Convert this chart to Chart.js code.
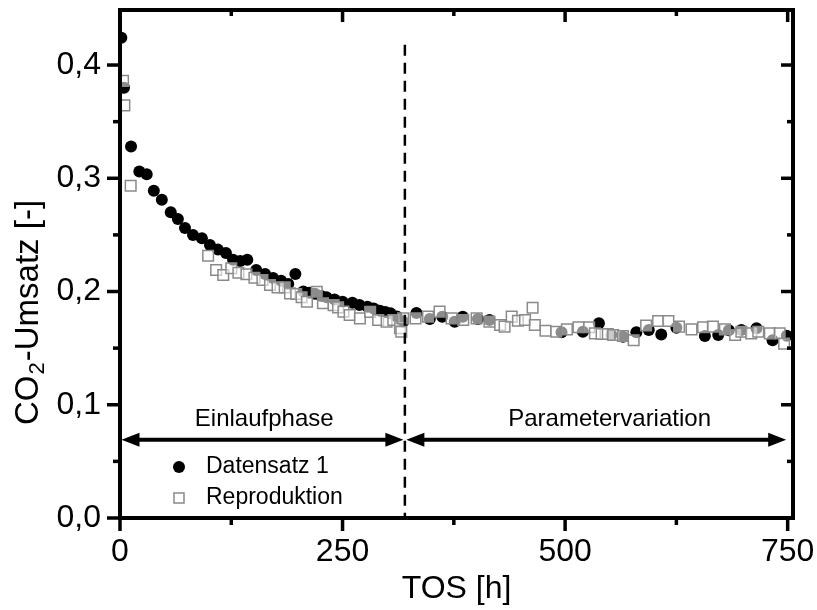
<!DOCTYPE html>
<html><head><meta charset="utf-8">
<script src="https://cdn.jsdelivr.net/npm/chart.js@4.4.1/dist/chart.umd.min.js"></script>
<style>html,body{margin:0;padding:0;background:#fff}#wrap{width:817px;height:610px}</style>
</head><body><div id="wrap"><canvas id="c" width="817" height="610"></canvas></div>
<script>
// ---- data ----
const datensatzX = [1.5,4.5,12.4,21.7,30,38,47,57,65,73,82,92,101,110,119,127,135,143,153,163,172,181,189,197,206,213,219,226,232,241,250,261,269,278,285,292,298,304,311,318,333,348,362,376,385,402,415,496,520,538,552,565,580,594,608,625,657,672,684,698,715,733,749];
const datensatzY = [0.424,0.380,0.328,0.306,0.3035,0.289,0.281,0.270,0.264,0.256,0.250,0.247,0.241,0.237,0.234,0.228,0.227,0.228,0.219,0.2155,0.212,0.2096,0.2066,0.2155,0.200,0.199,0.198,0.196,0.195,0.193,0.191,0.190,0.188,0.1866,0.185,0.183,0.182,0.1807,0.178,0.1734,0.181,0.1758,0.1778,0.1734,0.1778,0.1758,0.1748,0.164,0.1645,0.172,0.1616,0.160,0.164,0.166,0.162,0.168,0.1607,0.1616,0.1657,0.166,0.1675,0.157,0.161];
const reproX = [3.4,4.9,12,99,108,116,125,133,142,151,160,168.5,177,185,191,198,204,210,221,228,240,245,251,258,269.5,281,290,299.5,307,314.5,316,318,332,346,359,372.5,385.6,400.6,415,427,432,440,447,455,463.5,466,478,490,502,515,527,533.5,541,548,554,565,577,591,604.5,616,628,642,655,666,679.5,691,698,709,717,730,741,746];
const reproY = [0.386,0.3644,0.2934,0.2316,0.219,0.2146,0.2205,0.2166,0.2152,0.2122,0.2102,0.2057,0.2037,0.2037,0.1984,0.1978,0.195,0.191,0.1998,0.1896,0.188,0.186,0.1822,0.1793,0.1763,0.182,0.1748,0.1734,0.1748,0.1675,0.1645,0.1763,0.1763,0.1778,0.1822,0.1763,0.1748,0.1763,0.1734,0.1704,0.169,0.1778,0.1742,0.1748,0.1857,0.1704,0.1654,0.1645,0.1666,0.1684,0.1684,0.163,0.1625,0.1625,0.1616,0.1607,0.157,0.170,0.174,0.174,0.169,0.1666,0.1684,0.169,0.1666,0.1616,0.1645,0.163,0.1645,0.163,0.163,0.154];
const seriesNames = ['Datensatz 1','Reproduktion'];
const xMajorTicks = [0,250,500,750];
const xMinorTicks = [125,375,625];
const yMajorTicks = [0,0.1,0.2,0.3,0.4];
const yMinorTicks = [0.05,0.15,0.25,0.35];
const xTitle = 'TOS [h]';
const yTitleParts = ['CO','2','-Umsatz [-]'];
const phaseBoundary = 320;
const phaseBoundaryTop = 0.418;
const phaseArrowY = 0.069;
const phaseLabelY = 0.0874;
const phaseLabels = ['Einlaufphase','Parametervariation'];
const phaseStarts = [0,320];
const phaseEnds = [320,750];
const phaseLabelX = [162,550];

const FONT = '"Liberation Sans", Arial, Helvetica, sans-serif';

function toPts(xs, ys){ return xs.map((x,i)=>({x:x,y:ys[i]})); }

const decor = {
  id:'decor',
  afterDraw(chart){
    const ctx = chart.ctx, ca = chart.chartArea;
    const xs = chart.scales.x, ys = chart.scales.y;
    ctx.save();
    ctx.fillStyle = '#000'; ctx.strokeStyle = '#000';
    // dashed boundary
    const bx = xs.getPixelForValue(phaseBoundary);
    ctx.setLineDash([11,7]); ctx.lineWidth = 2.5;
    ctx.beginPath(); ctx.moveTo(bx, ys.getPixelForValue(phaseBoundaryTop)); ctx.lineTo(bx, ca.bottom); ctx.stroke();
    ctx.setLineDash([]);
    // arrows
    const ay = ys.getPixelForValue(phaseArrowY);
    const hl = 18, hw = 7;
    for (let i=0;i<phaseLabels.length;i++){
      const x1 = xs.getPixelForValue(phaseStarts[i]) + 1.5, x2 = xs.getPixelForValue(phaseEnds[i]) - 1.5;
      ctx.lineWidth = 4;
      ctx.beginPath(); ctx.moveTo(x1+hl-2, ay); ctx.lineTo(x2-hl+2, ay); ctx.stroke();
      ctx.beginPath(); ctx.moveTo(x1, ay); ctx.lineTo(x1+hl, ay-hw); ctx.lineTo(x1+hl, ay+hw); ctx.closePath(); ctx.fill();
      ctx.beginPath(); ctx.moveTo(x2, ay); ctx.lineTo(x2-hl, ay-hw); ctx.lineTo(x2-hl, ay+hw); ctx.closePath(); ctx.fill();
      ctx.font = '24px ' + FONT; ctx.textAlign = 'center'; ctx.textBaseline = 'middle';
      ctx.fillText(phaseLabels[i], xs.getPixelForValue(phaseLabelX[i]), ys.getPixelForValue(phaseLabelY));
    }
    // legend
    ctx.font = '23px ' + FONT; ctx.textAlign = 'left'; ctx.textBaseline = 'middle';
    const lx = ca.left + 59, ly0 = ca.bottom - 51, lgap = 31;
    ctx.beginPath(); ctx.arc(lx, ly0, 6, 0, Math.PI*2); ctx.fill();
    ctx.fillText(seriesNames[0], lx + 27, ly0);
    ctx.fillStyle = '#fff'; ctx.fillRect(lx-5, ly0+lgap-5, 10, 10);
    ctx.strokeStyle = '#8a8a8a'; ctx.lineWidth = 1.5; ctx.strokeRect(lx-5, ly0+lgap-5, 10, 10);
    ctx.fillStyle = '#000'; ctx.strokeStyle = '#000';
    ctx.fillText(seriesNames[1], lx + 27, ly0 + lgap);
    // frame
    ctx.lineWidth = 4; ctx.lineJoin = 'miter';
    ctx.strokeRect(ca.left, ca.top, ca.right-ca.left, ca.bottom-ca.top);
    // ticks
    ctx.lineWidth = 3.5; ctx.lineCap = 'butt';
    const tk = (x1,y1,x2,y2)=>{ctx.beginPath();ctx.moveTo(x1,y1);ctx.lineTo(x2,y2);ctx.stroke();};
    xMajorTicks.forEach(v=>{const p=xs.getPixelForValue(v); tk(p,ca.bottom,p,ca.bottom+13); tk(p,ca.top,p,ca.top+12);});
    xMinorTicks.forEach(v=>{const p=xs.getPixelForValue(v); tk(p,ca.bottom,p,ca.bottom+7); tk(p,ca.top,p,ca.top+6);});
    yMajorTicks.forEach(v=>{const p=ys.getPixelForValue(v); tk(ca.left,p,ca.left-13,p); tk(ca.right,p,ca.right-12,p);});
    yMinorTicks.forEach(v=>{const p=ys.getPixelForValue(v); tk(ca.left,p,ca.left-7,p); tk(ca.right,p,ca.right-6,p);});
    // tick labels
    ctx.font = '32px ' + FONT; ctx.textBaseline = 'middle';
    ctx.textAlign = 'center';
    xMajorTicks.forEach(v=>ctx.fillText(String(v), xs.getPixelForValue(v), ca.bottom + 34));
    ctx.textAlign = 'right';
    yMajorTicks.forEach(v=>ctx.fillText(v.toFixed(1).replace('.',','), ca.left - 19, ys.getPixelForValue(v)));
    // x title
    ctx.textAlign = 'center';
    ctx.fillText(xTitle, (ca.left+ca.right)/2, ca.bottom + 71);
    // y title with subscript
    ctx.translate(29, 425); ctx.rotate(-Math.PI/2);
    ctx.textAlign = 'left'; ctx.font = '33px ' + FONT;
    let w = 0;
    ctx.fillText(yTitleParts[0], w, 0); w += ctx.measureText(yTitleParts[0]).width;
    ctx.font = '22px ' + FONT;
    ctx.fillText(yTitleParts[1], w + 1, 9); w += ctx.measureText(yTitleParts[1]).width + 2;
    ctx.font = '33px ' + FONT;
    ctx.fillText(yTitleParts[2], w, 0);
    ctx.restore();
  }
};

new Chart(document.getElementById('c'), {
  type: 'scatter',
  data: {
    datasets: [
      { label: seriesNames[0], data: toPts(datensatzX, datensatzY), order: 1,
        pointStyle: 'circle', pointRadius: 6, pointHoverRadius: 6,
        backgroundColor: '#000', borderColor: '#000', borderWidth: 0 },
      { label: seriesNames[1], data: toPts(reproX, reproY), order: 0,
        pointStyle: 'rect', pointRadius: 7.5, pointHoverRadius: 7.5,
        backgroundColor: 'rgba(255,255,255,0.55)', borderColor: '#8a8a8a', borderWidth: 1.5 }
    ]
  },
  options: {
    responsive: false, animation: false, devicePixelRatio: 1,
    layout: { padding: { left: 120, right: 24, top: 10, bottom: 92 } },
    scales: {
      x: { type: 'linear', min: 0, max: 756, display: false },
      y: { type: 'linear', min: 0, max: 0.4486, display: false }
    },
    plugins: { legend: { display: false }, tooltip: { enabled: false } },
    events: []
  },
  plugins: [decor]
});
</script>
</body></html>
